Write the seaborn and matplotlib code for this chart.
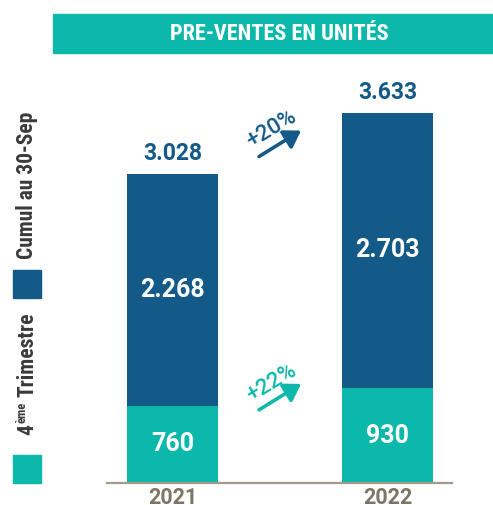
import matplotlib
matplotlib.use("Agg")
import matplotlib.pyplot as plt
from matplotlib import font_manager
from matplotlib.patches import Rectangle
from matplotlib.transforms import offset_copy
import pandas as pd
import seaborn as sns

# data
years = ["2021", "2022"]
q4 = [760, 930]            # 4eme trimestre
cumul = [2268, 2703]       # cumul au 30-Sep
total = [3028, 3633]
growth = ["+20%", "+22%"]  # total, 4eme trimestre

BLUE = "#135a89"
TEAL = "#0bb8a9"
GREY_TXT = "#7d7566"
GREY_AX = "#a29a8c"
DARK = "#3a3a3a"

sns.set_theme(style="white")
names = {f.name for f in font_manager.fontManager.ttflist}
if "Roboto Condensed" in names:
    COND, cond_scale = "Roboto Condensed", 1.0
else:
    COND, cond_scale = "Roboto", 0.87
plt.rcParams["font.family"] = ["Roboto", "DejaVu Sans"]

W, H = 493, 505
fig = plt.figure(figsize=(W / 100, H / 100), dpi=100)


def fx(x):
    return x / W


def fy(y):
    return 1 - y / H


ax = fig.add_axes([fx(107), fy(483), fx(452) - fx(107), (483 - 60) / H])

df = pd.DataFrame({"year": years, "q4": q4, "cumul": cumul, "total": total})
sns.barplot(data=df, x="year", y="total", color=BLUE, saturation=1, width=0.423,
            linewidth=0, ax=ax)
sns.barplot(data=df, x="year", y="q4", color=TEAL, saturation=1, width=0.423,
            linewidth=0, ax=ax)

ax.set_xlim(-0.305, 1.30)
ax.set_ylim(0, 4150)
ax.set_xlabel("")
ax.set_ylabel("")
ax.set_yticks([])
for s in ["left", "right", "top"]:
    ax.spines[s].set_visible(False)
ax.spines["bottom"].set_color(GREY_AX)
ax.spines["bottom"].set_linewidth(1.6)
ax.tick_params(axis="x", length=0, pad=3, colors=GREY_TXT, labelsize=15.5)
for lab in ax.get_xticklabels():
    lab.set_fontweight("bold")


def fmt(v):
    return f"{v:,}".replace(",", ".")


for i in range(len(years)):
    ax.annotate(fmt(total[i]), (i, total[i]), xytext=(0, 9), textcoords="offset pixels",
                ha="center", va="bottom", fontsize=16.5, fontweight="bold", color=BLUE)
    ax.text(i, q4[i] + cumul[i] / 2, fmt(cumul[i]), ha="center", va="center",
            fontsize=18, fontweight="bold", color="white")
    ax.text(i, q4[i] / 2, fmt(q4[i]), ha="center", va="center",
            fontsize=18, fontweight="bold", color="white")

# growth arrows between the bars
for (lo, hi, lab, col) in [(total[0], total[1], growth[0], BLUE), (q4[0], q4[1], growth[1], TEAL)]:
    mid = (lo + hi) / 2
    head = offset_copy(ax.transData, fig=fig, x=21, y=13, units="dots")
    tail = offset_copy(ax.transData, fig=fig, x=-21, y=-13, units="dots")
    ax.annotate("", xy=(0.5, mid), xycoords=head, xytext=(0.5, mid), textcoords=tail,
                arrowprops=dict(arrowstyle="-|>,head_length=0.55,head_width=0.35", lw=2.6,
                                color=col, mutation_scale=18, shrinkA=0, shrinkB=0))
    ax.annotate(lab, (0.5, mid), xytext=(-8, 14), textcoords="offset pixels",
                rotation=31, rotation_mode="anchor", ha="center", va="center",
                fontsize=16, fontweight="medium", color=col)

# title banner
fig.patches.append(Rectangle((fx(53), fy(53)), 1 - fx(53), (53 - 14) / H,
                             transform=fig.transFigure, color=TEAL, zorder=0))
fig.text(fx(279), fy(34), "PRE-VENTES EN UNITÉS", ha="center", va="center",
         color="white", fontsize=16 * cond_scale, fontweight="bold", family=[COND, "DejaVu Sans"])

# legend (squares + vertical texts)
fig.patches.append(Rectangle((fx(13), fy(298)), 28 / W, 28 / H, transform=fig.transFigure,
                             color=BLUE))
fig.patches.append(Rectangle((fx(13), fy(483)), 28 / W, 28 / H, transform=fig.transFigure,
                             color=TEAL))
leg_kw = dict(rotation=90, rotation_mode="anchor", ha="left", va="baseline", color=DARK,
              fontweight="bold", family=[COND, "DejaVu Sans"])
fig.text(fx(33), fy(259), "Cumul au 30-Sep", fontsize=15.5 * cond_scale, **leg_kw)

renderer = fig.canvas.get_renderer()
t4 = fig.text(fx(33), fy(435), "4", fontsize=15.5 * cond_scale, **leg_kw)
top = t4.get_window_extent(renderer).y1 + 1
tsup = fig.text(fx(25), top / H, "ème", fontsize=9 * cond_scale, **leg_kw)
top = tsup.get_window_extent(renderer).y1 + 5
fig.text(fx(33), top / H, "Trimestre", fontsize=15.5 * cond_scale, **leg_kw)

fig.savefig("out.png", dpi=100)
